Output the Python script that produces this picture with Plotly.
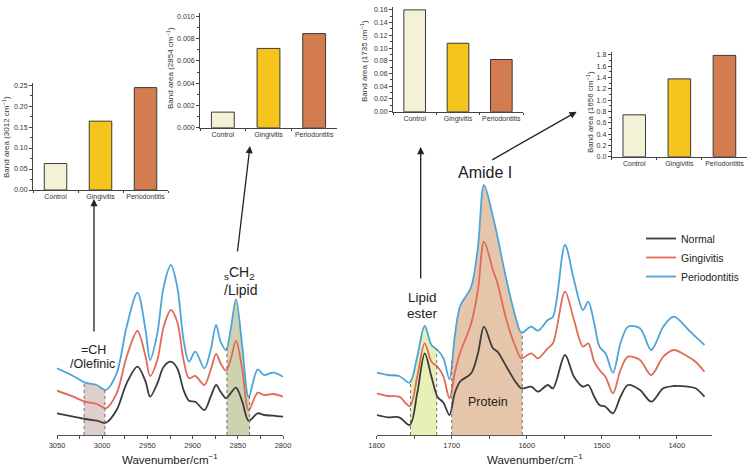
import numpy as np
import plotly.graph_objects as go

W, H = 750, 467

# ---------------- data ----------------
# C-H stretching region (left spectrum), arbitrary absorbance units (offset)
wn_ch = [3050, 3032, 3019, 3006, 2996, 2984, 2973, 2961, 2952, 2947, 2939, 2932, 2924,
         2917, 2910, 2904, 2897, 2887, 2880, 2874, 2869, 2863, 2858, 2852, 2845, 2838,
         2828, 2821, 2811, 2800]
normal_ch = [21.7, 18.3, 16.0, 14.3, 12.3, 25.0, 51.7, 68.3, 53.3, 38.3, 51.7, 68.3, 73.3,
             66.7, 45.0, 34.3, 33.3, 25.0, 38.3, 50.0, 43.3, 36.7, 41.7, 47.3, 33.3, 14.3,
             21.7, 20.0, 19.3, 18.3]
ging_ch = [44.3, 38.3, 33.3, 31.0, 26.7, 41.7, 78.3, 104.0, 78.3, 59.0, 75.0, 108.3, 125.0,
           113.3, 75.0, 56.7, 59.0, 50.0, 65.0, 81.0, 71.7, 64.3, 75.0, 94.3, 65.0, 25.0,
           42.3, 40.0, 41.0, 38.3]
perio_ch = [66.7, 59.0, 52.3, 50.0, 45.0, 61.7, 108.3, 142.3, 105.0, 75.0, 101.7, 148.3, 170.0,
            148.3, 95.0, 73.3, 83.3, 66.7, 85.0, 110.0, 93.3, 85.0, 105.0, 135.7, 88.3, 38.3,
            65.7, 60.0, 62.3, 58.3]

# Fingerprint region (right spectrum)
wn_fp = [1800, 1785, 1770, 1756, 1746, 1736, 1727, 1719, 1711, 1703, 1696, 1689, 1674, 1665,
         1657, 1645, 1639, 1627, 1615, 1607, 1594, 1585, 1572, 1565, 1549, 1537, 1525, 1518,
         1510, 1503, 1495, 1485, 1475, 1465, 1449, 1434, 1418, 1404, 1385, 1375, 1363]
normal_fp = [20.0, 17.7, 17.7, 10.0, 41.7, 81.7, 58.3, 38.3, 32.3, 20.0, 41.7, 53.3, 61.7, 81.7,
             108.3, 86.7, 83.3, 68.3, 53.3, 46.7, 48.3, 43.3, 50.0, 46.7, 80.0, 58.3, 48.3, 50.0,
             38.3, 30.0, 28.3, 21.7, 38.3, 50.0, 45.0, 33.3, 46.7, 49.0, 48.3, 46.7, 38.3]
ging_fp = [41.7, 39.0, 38.3, 29.0, 58.3, 91.7, 73.3, 68.3, 58.3, 36.7, 61.7, 81.7, 111.7, 145.0,
           193.3, 165.0, 151.7, 115.0, 88.3, 76.7, 81.7, 76.7, 86.7, 91.7, 143.3, 115.0, 88.3, 91.7,
           73.3, 65.0, 58.3, 41.7, 65.0, 78.3, 75.0, 60.0, 78.3, 85.0, 78.3, 73.3, 63.3]
perio_fp = [62.3, 60.0, 59.0, 52.3, 78.3, 109.0, 90.0, 85.0, 76.7, 55.7, 98.3, 128.3, 148.3, 188.3,
            250.0, 218.3, 198.3, 155.0, 118.3, 102.3, 108.3, 104.3, 115.0, 118.3, 190.0, 155.0, 125.0,
            133.3, 111.7, 88.3, 81.7, 62.3, 91.7, 108.3, 106.7, 85.0, 108.3, 118.3, 105.7, 98.3, 90.0]

series_names = ["Normal", "Gingivitis", "Periodontitis"]

# Band limits (wavenumber, cm-1)
bands_ch = [(3020, 2997), (2862, 2837)]
bands_fp = [(1755, 1720), (1700, 1606)]

# Band area bar charts
groups = ["Control", "Gingivitis", "Periodontitis"]
area_3012 = [0.063, 0.164, 0.244]
area_2854 = [0.00140, 0.00712, 0.00845]
area_1735 = [0.160, 0.1075, 0.082]
area_1656 = [0.74, 1.375, 1.79]

# ---------------- styles ----------------
FONT = "Arial, Liberation Sans, sans-serif"
line_colors = ["#3c3c3c", "#e26a58", "#4ea4da"]
bar_colors = ["#f3f1d6", "#f6c51d", "#d27c50"]
band_colors_ch = ["rgba(205,180,176,0.65)", "rgba(190,195,150,0.75)"]
band_colors_fp = ["rgba(228,236,170,0.85)", "rgba(222,184,150,0.8)"]


def px_x(p):
    return p / W


def px_y(p):
    return 1 - p / H


fig = go.Figure()


def add_band(wn, top, band, color, xa, ya):
    hi, lo = max(band), min(band)
    asc_x = np.array(wn[::-1], dtype=float)
    asc_y = np.array(top[::-1], dtype=float)
    f = lambda v: float(np.interp(v, asc_x, asc_y))
    xs = [hi] + [w for w in wn if lo < w < hi] + [lo]
    ys = [f(hi)] + [t for w, t in zip(wn, top) if lo < w < hi] + [f(lo)]
    fig.add_trace(go.Scatter(x=xs, y=ys, mode="lines", fill="tozeroy", fillcolor=color,
                             line=dict(width=0, shape="spline"), xaxis=xa, yaxis=ya,
                             showlegend=False, hoverinfo="skip"))
    for edge in (hi, lo):
        fig.add_shape(type="line", xref=xa, yref=ya, x0=edge, x1=edge, y0=0, y1=f(edge),
                      line=dict(color="#707070", width=1, dash="dot"))


for b, c in zip(bands_ch, band_colors_ch):
    add_band(wn_ch, perio_ch, b, c, "x", "y")
for b, c in zip(bands_fp, band_colors_fp):
    add_band(wn_fp, perio_fp, b, c, "x2", "y2")

for name, col, ych, yfp in zip(series_names, line_colors,
                               [normal_ch, ging_ch, perio_ch], [normal_fp, ging_fp, perio_fp]):
    fig.add_trace(go.Scatter(x=wn_ch, y=ych, mode="lines", name=name,
                             line=dict(color=col, width=1.8, shape="spline", smoothing=0.9),
                             xaxis="x", yaxis="y", showlegend=False))
    fig.add_trace(go.Scatter(x=wn_fp, y=yfp, mode="lines", name=name,
                             line=dict(color=col, width=1.8, shape="spline", smoothing=0.9),
                             xaxis="x2", yaxis="y2", showlegend=True))

# bar insets
insets = [
    (area_3012, "x3", "y3", (33, 168), (190, 83), [0, 0.255], 0.05, 0.025, ".2f"),
    (area_2854, "x4", "y4", (200, 337), (127.7, 13), [0, 0.0103], 0.002, 0.001, ".3f"),
    (area_1735, "x5", "y5", (393, 523), (111.7, 7), [0, 0.1645], 0.02, 0.01, ".2f"),
    (area_1656, "x6", "y6", (611.7, 747), (156.7, 52), [0, 1.85], 0.2, 0.1, ".1f"),
]
for vals, xa, ya, *_ in insets:
    fig.add_trace(go.Bar(x=groups, y=vals, marker=dict(color=bar_colors,
                                                       line=dict(color="#3a3a3a", width=1)),
                         width=0.5, xaxis=xa, yaxis=ya, showlegend=False))

tick_font = dict(family=FONT, size=7.5, color="#333333")
layout = dict(
    width=W, height=H, margin=dict(l=0, r=0, t=0, b=0, pad=0, autoexpand=False),
    paper_bgcolor="white", plot_bgcolor="rgba(0,0,0,0)",
    font=dict(family=FONT, color="#222222"),
    showlegend=True,
    legend=dict(x=px_x(641), y=px_y(224), xanchor="left", yanchor="top",
                font=dict(family=FONT, size=10.5, color="#222222"), bgcolor="rgba(0,0,0,0)",
                itemwidth=30, tracegroupgap=0),
    xaxis=dict(domain=[px_x(57), px_x(283)], range=[3050, 2800], anchor="y",
               showline=True, linecolor="#555", linewidth=1.2, ticks="outside", ticklen=3,
               tickcolor="#555", dtick=50, tick0=3000, tickfont=tick_font,
               minor=dict(ticks="outside", ticklen=3, dtick=25, tickcolor="#555"),
               showgrid=False, zeroline=False, automargin=False),
    yaxis=dict(domain=[px_y(435), px_y(255)], range=[0, 180], visible=False, anchor="x"),
    xaxis2=dict(domain=[px_x(376.7), px_x(712)], range=[1800, 1353], anchor="y2",
                showline=True, linecolor="#555", linewidth=1.2, ticks="outside", ticklen=3,
                tickcolor="#555", dtick=100, tick0=1800, tickfont=tick_font,
                minor=dict(ticks="outside", ticklen=3, dtick=50, tickcolor="#555"),
                showgrid=False, zeroline=False, automargin=False),
    yaxis2=dict(domain=[px_y(435), px_y(175)], range=[0, 260], visible=False, anchor="x2"),
)

small = dict(family=FONT, size=7, color="#333333")
for vals, xa, ya, xd, yd, yr, dt, mdt, fmt in insets:
    xk = "xaxis" + xa[1:]
    yk = "yaxis" + ya[1:]
    layout[xk] = dict(domain=[px_x(xd[0]), px_x(xd[1])], range=[-0.5, 2.5], anchor=ya,
                      showline=True, linecolor="#444", linewidth=1, ticks="outside", ticklen=2,
                      tickson="boundaries", tickcolor="#444", tickfont=small, tickangle=0,
                      showgrid=False, zeroline=False, type="category", automargin=False)
    layout[yk] = dict(domain=[px_y(yd[0]), px_y(yd[1])], range=yr, anchor=xa,
                      showline=True, linecolor="#444", linewidth=1, ticks="outside", ticklen=3,
                      tickcolor="#444", dtick=dt, tick0=0, tickformat=fmt, tickfont=small,
                      minor=dict(ticks="outside", ticklen=2, dtick=mdt, tickcolor="#444"),
                      showgrid=False, zeroline=False, automargin=False)

fig.update_layout(**layout)

# spectrum axis titles
for cx in (170, 535):
    fig.add_annotation(text="Wavenumber/cm<sup>\u22121</sup>", x=px_x(cx), y=px_y(459),
                       xref="paper", yref="paper", showarrow=False, xanchor="center",
                       yanchor="middle", font=dict(family=FONT, size=11.5, color="#222222"))

# y titles of insets
ytitles = [("Band area (3012 cm<sup>\u22121</sup>)", 6, 137),
           ("Band area (2854 cm<sup>\u22121</sup>)", 170, 68),
           ("Band area (1735 cm<sup>\u22121</sup>)", 364, 61),
           ("Band area (1656 cm<sup>\u22121</sup>)", 590, 112)]
for txt, px, py in ytitles:
    fig.add_annotation(text=txt, x=px_x(px), y=px_y(py), xref="paper", yref="paper",
                       showarrow=False, textangle=-90, xanchor="center", yanchor="middle",
                       font=dict(family=FONT, size=8, color="#333333"))

# arrows
arrows = [((94, 199), (0, 134)), ((250, 146), (-12.7, 107)),
          ((420.7, 147), (0, 133)), ((576.7, 111.7), (-86, 49))]
for (hx, hy), (ax, ay) in arrows:
    fig.add_annotation(text="", x=px_x(hx), y=px_y(hy), xref="paper", yref="paper",
                       ax=ax, ay=ay, axref="pixel", ayref="pixel", showarrow=True,
                       arrowhead=2, arrowsize=1.1, arrowwidth=1.3, arrowcolor="#222")

# labels
labels = [("=CH", 93, 350, 12.5), ("/Olefinic", 92, 364, 12.5),
          ("<sub>s</sub>CH<sub>2</sub>", 239, 273, 14), ("/Lipid", 240, 290, 14),
          ("Lipid", 422, 297, 13.5), ("ester", 422, 313, 13.5),
          ("Amide I", 485, 172, 16), ("Protein", 488, 402, 12.5)]
for txt, px, py, fs in labels:
    fig.add_annotation(text=txt, x=px_x(px), y=px_y(py), xref="paper", yref="paper",
                       showarrow=False, xanchor="center", yanchor="middle",
                       font=dict(family=FONT, size=fs, color="#222222"))

fig.write_html("out.html", config={"displayModeBar": False},
               post_script="document.body.style.margin='0';document.body.style.padding='0';")
